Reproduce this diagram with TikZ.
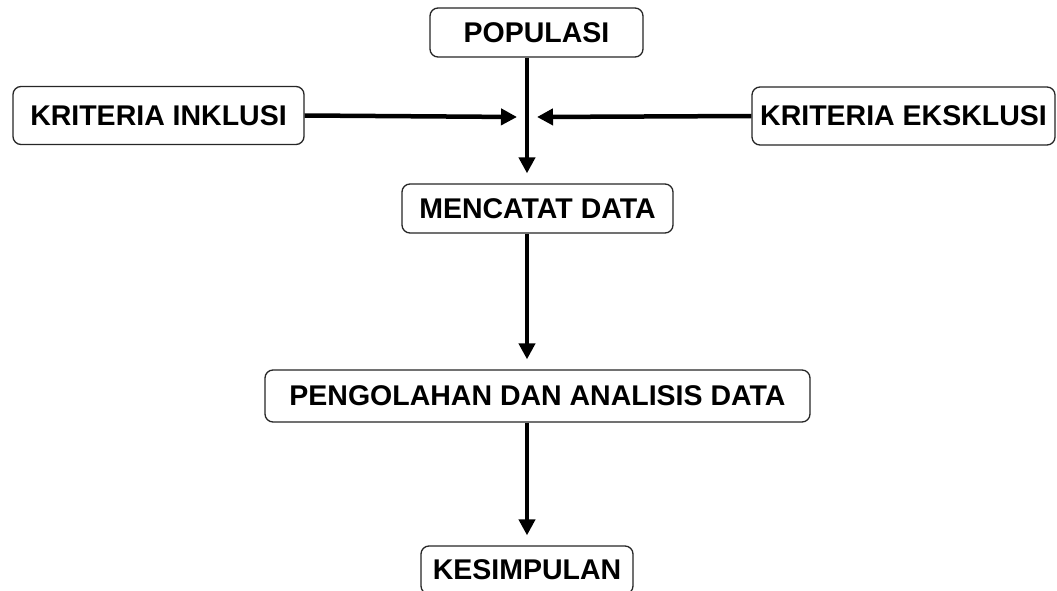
\documentclass[tikz,border=0pt]{standalone}
\usepackage{fontspec}
\setmainfont{Liberation Sans}
\usetikzlibrary{arrows.meta}
\begin{document}
\begin{tikzpicture}[x=1pt,y=-1pt,
  box/.style={draw=black!85, line width=1.3pt, rounded corners=8pt, fill=white,
    inner sep=0pt, font=\fontsize{28.5}{31}\selectfont\bfseries},
  conn/.style={line width=4.5pt, -{Triangle[length=16pt,width=16pt]}}]
\useasboundingbox (0,0) rectangle (1057,591);
\node[box, minimum width=213pt, minimum height=49pt] (pop) at (536.5,32.5) {POPULASI};
\node[box, minimum width=291pt, minimum height=58pt] (ink) at (158.5,115.5) {KRITERIA INKLUSI};
\node[box, minimum width=303pt, minimum height=58pt] (eks) at (903.5,116) {KRITERIA EKSKLUSI};
\node[box, minimum width=271pt, minimum height=49pt] (mc) at (537.5,208.5) {MENCATAT DATA};
\node[box, minimum width=545pt, minimum height=52pt] (pa) at (537.5,396) {PENGOLAHAN DAN ANALISIS DATA};
\node[box, minimum width=212pt, minimum height=48pt] (kes) at (527,570) {KESIMPULAN};
\coordinate (j) at (527,117);
\coordinate (jl) at (517,117);
\coordinate (jr) at (537,117);
\draw[conn, shorten >=10pt] (pop.south -| j) -- (mc.north -| j);
\draw[conn] (ink.east) -- (jl);
\draw[conn] (eks.west) -- (jr);
\draw[conn, shorten >=10pt] (mc.south -| j) -- (pa.north -| j);
\draw[conn, shorten >=10pt] (pa.south -| j) -- (kes.north -| j);
\end{tikzpicture}
\end{document}
